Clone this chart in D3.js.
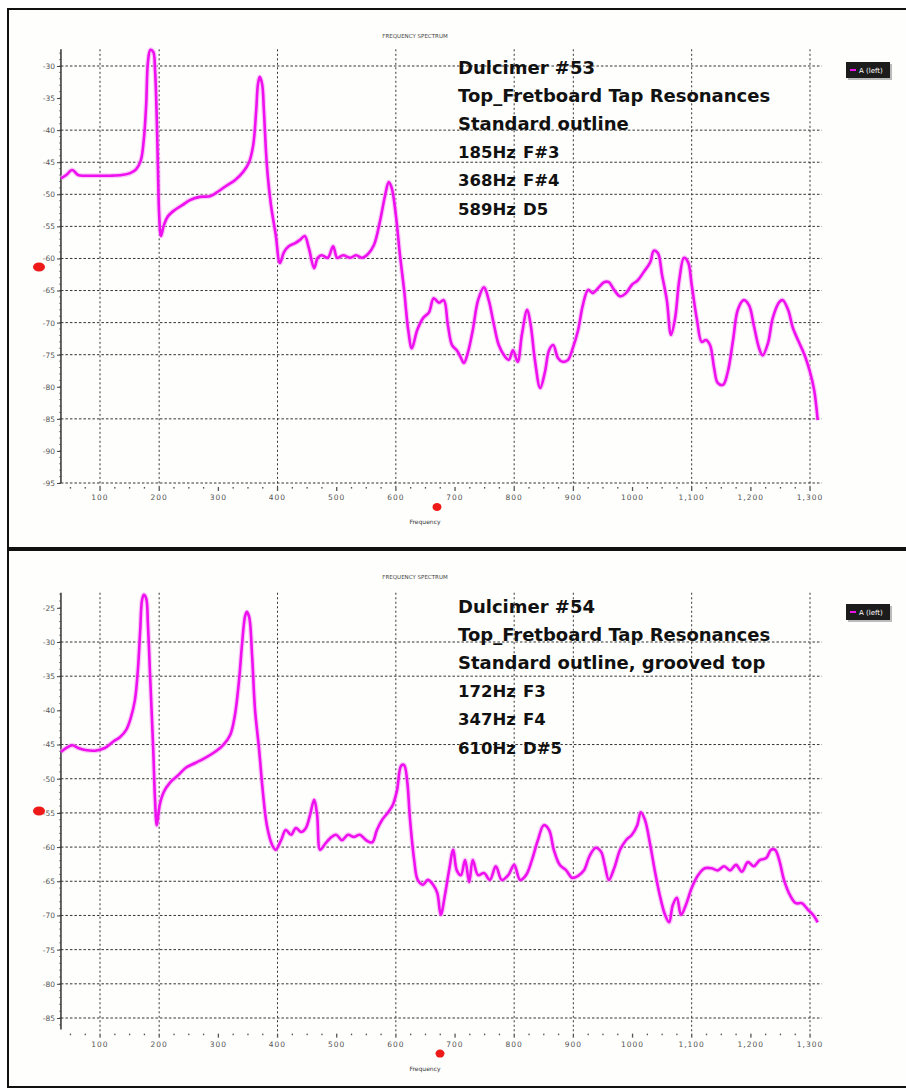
<!DOCTYPE html>
<html>
<head>
<meta charset="utf-8">
<script src="https://cdn.jsdelivr.net/npm/d3@7"></script>
<style>
  body { margin: 0; background: #fff; }
  svg { display: block; }
</style>
</head>
<body>
<svg id="chart" width="906" height="1089"></svg>
<script>
// ---- Dulcimer #53 spectrum (Hz, dB) ----
const freq53 = [34,43,53,63,75,92,117,137,151,161,169,174,178,181,185,190,193,196,198,200,203,208,215,227,239,252,269,286,299,313,328,342,352,359,364,367,370,374,377,382,389,397,404,411,419,430,438,446,453,462,468,475,485,494,501,511,523,533,543,553,563,573,582,588,593,600,607,614,621,627,636,646,656,664,673,681,688,695,703,710,715,722,730,739,749,757,766,774,783,791,798,806,813,822,828,835,844,852,859,866,874,882,891,899,908,916,925,933,942,952,960,969,979,989,999,1009,1019,1030,1036,1043,1050,1058,1065,1072,1079,1087,1094,1100,1109,1117,1124,1131,1138,1144,1153,1161,1170,1178,1188,1197,1205,1214,1220,1229,1237,1248,1254,1263,1271,1281,1291,1300,1307,1313];
const db53 = [-47.5,-47.0,-46.2,-47.0,-47.1,-47.1,-47.1,-47.0,-46.7,-46.1,-44.7,-41.5,-36.1,-29.4,-27.5,-27.8,-30.6,-38.4,-46.2,-53.2,-56.5,-54.8,-53.4,-52.4,-51.7,-50.9,-50.4,-50.3,-49.6,-48.7,-47.8,-46.5,-45.0,-42.3,-36.9,-32.8,-31.7,-32.8,-36.9,-45.4,-51.7,-56.3,-60.7,-59.0,-58.1,-57.6,-57.1,-56.5,-58.4,-61.5,-59.9,-59.5,-59.9,-58.1,-59.9,-59.5,-59.9,-59.5,-59.9,-59.3,-57.9,-54.3,-50.1,-48.1,-49.0,-53.2,-59.5,-64.9,-71.2,-74.0,-71.2,-69.3,-68.4,-66.2,-66.9,-66.5,-70.4,-73.5,-74.3,-75.5,-76.3,-74.6,-71.2,-66.5,-64.5,-66.5,-70.4,-73.5,-75.1,-75.8,-74.3,-76.1,-71.9,-68.0,-70.4,-75.8,-80.2,-77.7,-74.3,-73.5,-75.5,-76.1,-75.8,-74.0,-71.2,-67.3,-64.9,-65.4,-64.6,-63.7,-63.7,-64.9,-65.9,-65.4,-64.1,-63.4,-62.1,-60.6,-58.8,-59.2,-62.6,-66.5,-71.9,-69.3,-63.4,-59.9,-60.6,-64.1,-69.6,-73.0,-72.7,-73.5,-77.1,-79.4,-79.7,-77.7,-72.7,-68.0,-66.5,-67.3,-70.4,-74.0,-75.1,-73.2,-69.3,-66.8,-66.5,-68.0,-70.8,-73.0,-75.1,-77.7,-80.5,-85.2];

// ---- Dulcimer #54 spectrum (Hz, dB) ----
const freq54 = [34,43,53,63,75,92,108,122,134,144,152,159,164,168,171,174,178,181,185,190,193,196,201,208,218,232,245,261,277,294,308,320,328,335,340,345,348,352,357,362,369,375,382,391,397,406,414,423,431,440,448,455,462,467,472,479,489,499,509,519,529,539,550,560,568,577,587,595,602,609,614,619,624,631,637,646,654,663,670,676,683,690,697,703,710,717,724,730,739,749,759,769,779,790,800,810,820,830,840,850,859,867,877,888,898,908,918,928,938,947,953,960,969,979,989,999,1008,1014,1021,1030,1038,1046,1055,1062,1068,1075,1082,1090,1100,1111,1122,1134,1144,1155,1165,1175,1185,1195,1205,1215,1226,1234,1241,1248,1256,1266,1276,1286,1297,1305,1313];
const db54 = [-46.1,-45.5,-45.1,-45.5,-45.8,-45.9,-45.5,-44.6,-43.9,-42.9,-41.1,-38.5,-34.1,-28.2,-23.9,-23.1,-23.6,-27.5,-35.6,-45.8,-53.1,-56.8,-53.8,-51.9,-50.6,-49.5,-48.4,-47.7,-47.0,-46.1,-45.1,-43.6,-40.7,-35.6,-30.4,-26.3,-25.6,-26.3,-31.9,-39.9,-45.8,-51.7,-56.8,-59.7,-60.4,-59.0,-57.5,-58.2,-57.2,-57.8,-57.2,-55.3,-53.1,-55.3,-60.4,-59.7,-58.7,-58.2,-59.0,-58.2,-58.5,-58.2,-59.0,-59.3,-57.5,-56.0,-54.9,-53.8,-51.7,-48.1,-48.0,-50.2,-56.0,-61.9,-64.8,-65.5,-64.8,-65.5,-66.7,-69.9,-67.0,-63.4,-60.4,-63.4,-64.1,-61.9,-65.1,-61.9,-64.1,-63.8,-64.8,-62.8,-64.8,-64.1,-62.6,-64.8,-64.1,-61.9,-59.0,-56.8,-57.5,-60.4,-62.6,-63.4,-64.5,-64.2,-63.4,-61.2,-60.1,-60.7,-62.6,-64.8,-63.1,-60.4,-59.0,-58.2,-56.8,-54.9,-56.0,-59.7,-63.6,-67.0,-69.9,-71.0,-68.5,-67.4,-69.9,-68.5,-66.0,-64.1,-63.1,-63.1,-63.4,-62.8,-63.4,-62.6,-63.6,-62.2,-62.8,-61.9,-61.6,-60.4,-60.4,-61.9,-64.8,-67.0,-68.2,-68.2,-69.2,-69.9,-71.0];

// ---- axis ticks and labels ----
const xTickFreqs = [100,200,300,400,500,600,700,800,900,1000,1100,1200,1300];
const xGridFreqs = [100,200,400,600,800,900,1100,1300];
const yTicks53 = [-30,-35,-40,-45,-50,-55,-60,-65,-70,-75,-80,-85,-90,-95];
const yGrid53 = [-30,-40,-45,-50,-55,-60,-65,-70,-75,-85,-95];
const yTicks54 = [-25,-30,-35,-40,-45,-50,-55,-60,-65,-70,-75,-80,-85];
const yGrid54 = [-30,-35,-45,-50,-55,-60,-65,-70,-75,-80,-85];

// ---- annotation text ----
const notes53 = ["Dulcimer #53", "Top_Fretboard Tap Resonances", "Standard outline"];
const peaks53 = [["185Hz", "F#3"], ["368Hz", "F#4"], ["589Hz", "D5"]];
const notes54 = ["Dulcimer #54", "Top_Fretboard Tap Resonances", "Standard outline, grooved top"];
const peaks54 = [["172Hz", "F3"], ["347Hz", "F4"], ["610Hz", "D#5"]];

const chartTitle = "FREQUENCY SPECTRUM";
const xTitle = "Frequency";
const legendLabel = "A (left)";

const svg = d3.select("#chart");
const LINE = "#ee10ee";

function drawPanel(cfg) {
  const g = svg.append("g");

  // frame
  g.append("rect")
    .attr("x", cfg.frame[0]).attr("y", cfg.frame[1])
    .attr("width", cfg.frame[2]).attr("height", cfg.frame[3])
    .attr("fill", "#fefefc").attr("stroke", "#111").attr("stroke-width", 2);

  const x = d3.scaleLinear().domain([100, 1300]).range([100, 810]);
  const y = d3.scaleLinear().domain([-30, cfg.yRef]).range([cfg.y30, cfg.yRefPx]);

  const left = x(34), right = x(1320);
  const top = y(cfg.yTop), bottom = y(cfg.yBottom);

  // horizontal grid
  g.append("g").selectAll("line").data(cfg.yGrid).join("line")
    .attr("x1", left).attr("x2", right)
    .attr("y1", d => y(d)).attr("y2", d => y(d))
    .attr("stroke", "#333").attr("stroke-width", 1)
    .attr("stroke-dasharray", "2.5,2");

  // vertical grid
  g.append("g").selectAll("line").data(xGridFreqs).join("line")
    .attr("x1", d => x(d)).attr("x2", d => x(d))
    .attr("y1", top).attr("y2", bottom + 4)
    .attr("stroke", "#333").attr("stroke-width", 1)
    .attr("stroke-dasharray", "2,2.5");

  // y axis: minor ticks every 1 dB, major every 5 dB
  const minor = d3.range(Math.ceil(cfg.yBottom), cfg.yTop, 1);
  g.append("g").selectAll("line").data(minor).join("line")
    .attr("x1", left - 2).attr("x2", left)
    .attr("y1", d => y(d)).attr("y2", d => y(d))
    .attr("stroke", "#777").attr("stroke-width", 0.8);

  const yAxis = d3.axisLeft(y).tickValues(cfg.yTicks).tickSize(4).tickPadding(2)
    .tickFormat(d => String(d));
  const ya = g.append("g").attr("transform", `translate(${left},0)`).call(yAxis);
  ya.select(".domain").remove();
  ya.selectAll(".tick line").attr("stroke", "#444");
  ya.selectAll(".tick text").attr("fill", "#555")
    .style("font-family", "DejaVu Sans, sans-serif").style("font-size", "7.5px");
  g.append("line").attr("x1", left).attr("x2", left).attr("y1", top).attr("y2", bottom)
    .attr("stroke", "#333").attr("stroke-width", 1.5);

  // x axis: small tick dots every 25 Hz and labels every 100 Hz
  const xMinor = d3.range(50, 1325, 25);
  g.append("g").selectAll("rect").data(xMinor).join("rect")
    .attr("x", d => x(d) - 0.6).attr("y", bottom + 4)
    .attr("width", 1.3).attr("height", d => d % 100 === 0 ? 4 : 1.6)
    .attr("fill", "#555");
  const fmt = d3.format(",");
  g.append("g").selectAll("text").data(xTickFreqs).join("text")
    .attr("x", d => x(d)).attr("y", bottom + 17)
    .attr("text-anchor", "middle")
    .attr("fill", "#555")
    .style("font-family", "DejaVu Sans, sans-serif").style("font-size", "7.5px")
    .style("letter-spacing", "1px")
    .text(d => d >= 1100 ? fmt(d) : d);

  // titles
  g.append("text").attr("x", 415).attr("y", cfg.frame[1] + 29)
    .attr("text-anchor", "middle").attr("fill", "#444")
    .style("font-family", "DejaVu Sans, sans-serif").style("font-size", "5.5px")
    .text(chartTitle);
  g.append("text").attr("x", 425).attr("y", bottom + 41)
    .attr("text-anchor", "middle").attr("fill", "#333")
    .style("font-family", "DejaVu Sans, sans-serif").style("font-size", "6px")
    .text(xTitle);

  // red axis-handle markers
  g.append("ellipse").attr("cx", 39).attr("cy", cfg.yMarker)
    .attr("rx", 6).attr("ry", 4.5).attr("fill", "#ee1a1a");
  g.append("ellipse").attr("cx", cfg.xMarker).attr("cy", bottom + 24)
    .attr("rx", 4.5).attr("ry", 4).attr("fill", "#ee1a1a");

  // spectrum curve
  const pts = cfg.freq.map((f, i) => [f, cfg.db[i]]);
  const line = d3.line().x(d => x(d[0])).y(d => y(d[1])).curve(d3.curveCatmullRom.alpha(0.5));
  g.append("path").datum(pts).attr("d", line)
    .attr("fill", "none").attr("stroke", "#f7a6f7").attr("stroke-width", 5)
    .attr("stroke-linejoin", "round").attr("opacity", 0.6);
  g.append("path").datum(pts).attr("d", line)
    .attr("fill", "none").attr("stroke", LINE).attr("stroke-width", 2.6)
    .attr("stroke-linejoin", "round");

  // legend box
  const lg = g.append("g").attr("transform", `translate(846,${cfg.legendY})`);
  lg.append("rect").attr("x", 2).attr("y", 2).attr("width", 44).attr("height", 16).attr("fill", "#bbb");
  lg.append("rect").attr("width", 44).attr("height", 16).attr("fill", "#1c1c1c");
  lg.append("line").attr("x1", 4).attr("x2", 10).attr("y1", 8).attr("y2", 8)
    .attr("stroke", LINE).attr("stroke-width", 2);
  lg.append("text").attr("x", 13).attr("y", 11).attr("fill", "#fff")
    .style("font-family", "DejaVu Sans, sans-serif").style("font-size", "7px")
    .text(legendLabel);

  // annotations
  const ann = g.append("g")
    .style("font-family", "DejaVu Sans, sans-serif")
    .style("font-weight", "bold").attr("fill", "#111");
  cfg.notes.forEach((t, i) => {
    ann.append("text").attr("x", 458).attr("y", cfg.noteY + i * 28.1)
      .style("font-size", "18px").text(t);
  });
  cfg.peaks.forEach((p, i) => {
    const yy = cfg.noteY + (i + 3) * 28.1;
    ann.append("text").attr("x", 458).attr("y", yy).style("font-size", "16.5px").text(p[0]);
    ann.append("text").attr("x", 523).attr("y", yy).style("font-size", "16.5px").text(p[1]);
  });
}

drawPanel({
  frame: [8, 9, 904, 539],
  yRef: -95, y30: 66, yRefPx: 483,
  yTop: -27.4, yBottom: -95,
  yTicks: yTicks53, yGrid: yGrid53,
  yMarker: 267, xMarker: 437, legendY: 62,
  freq: freq53, db: db53,
  notes: notes53, peaks: peaks53, noteY: 74
});

drawPanel({
  frame: [8, 550, 904, 537],
  yRef: -85, y30: 642, yRefPx: 1018,
  yTop: -22.8, yBottom: -86.7,
  yTicks: yTicks54, yGrid: yGrid54,
  yMarker: 811, xMarker: 440, legendY: 604,
  freq: freq54, db: db54,
  notes: notes54, peaks: peaks54, noteY: 613
});
</script>
</body>
</html>
